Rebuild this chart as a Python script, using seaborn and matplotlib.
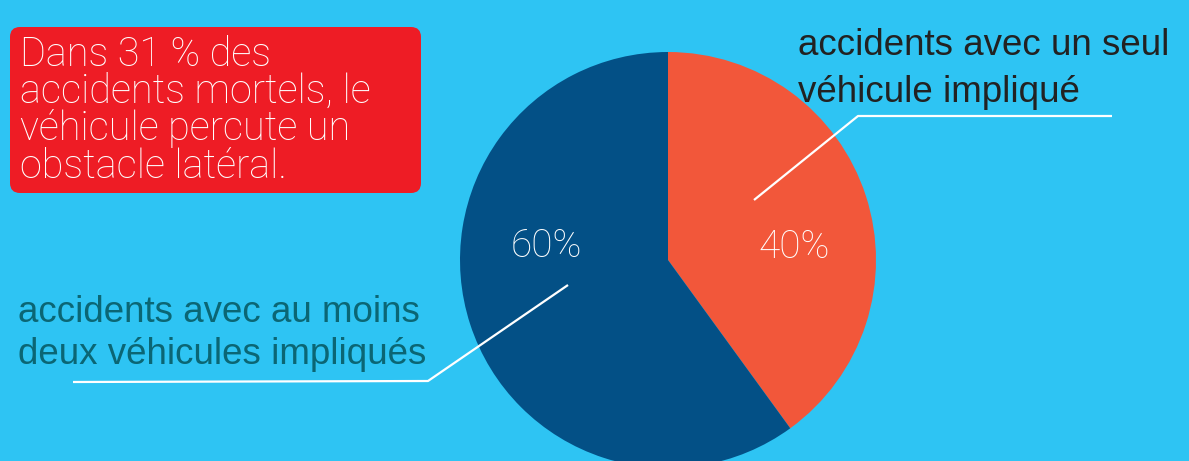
import matplotlib
matplotlib.use("Agg")
import matplotlib.pyplot as plt
from matplotlib.patches import FancyBboxPatch
import seaborn as sns

# ---- data ----
categories = ["accidents avec un seul\nvéhicule impliqué",
              "accidents avec au moins\ndeux véhicules impliqués"]
shares = [40, 60]
pct_labels = ["40%", "60%"]
callout = "Dans 31 % des\naccidents mortels, le\nvéhicule percute un\nobstacle latéral."

# ---- style ----
BG = "#2EC4F3"
ORANGE = "#F2573A"
NAVY = "#035086"
RED = "#EE1C25"
palette = sns.color_palette([ORANGE, NAVY])

sns.set_theme(style="white")
plt.rcParams["font.family"] = ["Liberation Sans", "DejaVu Sans"]

W, H = 1189, 461
fig = plt.figure(figsize=(W / 100, H / 100), dpi=100, facecolor=BG)
ax = fig.add_axes([0, 0, 1, 1])
ax.set_facecolor(BG)


def Y(py):
    return H - py


def lines(x, baselines, text, **kw):
    for b, line in zip(baselines, text.split("\n")):
        ax.text(x, Y(b), line, ha="left", va="baseline", **kw)


# pie
ax.pie(shares, colors=palette, startangle=90, counterclock=False,
       center=(668, Y(260)), radius=208,
       wedgeprops=dict(linewidth=0, edgecolor="none"))

# percentage labels
LIGHT = ["Roboto", "DejaVu Sans"]
ax.text(794, Y(258), pct_labels[0], color="white", fontsize=28,
        fontweight="light", family=LIGHT, ha="center", va="baseline")
ax.text(546, Y(257), pct_labels[1], color="white", fontsize=28,
        fontweight="light", family=LIGHT, ha="center", va="baseline")

# category labels
lines(798, [55, 102], categories[0], color="#222222", fontsize=26.5)
lines(18, [322, 364], categories[1], color="#0B6674", fontsize=26.5)

# leader lines
ax.plot([754, 858, 1112], [Y(200), Y(116), Y(116)], color="white", lw=1.6,
        solid_capstyle="butt")
ax.plot([568, 428, 73], [Y(285), Y(381), Y(382)], color="white", lw=1.6,
        solid_capstyle="butt")

# callout box
box = FancyBboxPatch((10, Y(193)), 411, 166,
                     boxstyle="round,pad=0,rounding_size=10",
                     facecolor=RED, edgecolor="none")
ax.add_patch(box)
lines(20, [66, 103, 140, 178], callout, color="white", fontsize=28.5,
      family=LIGHT, fontweight="light")

ax.set_xlim(0, W)
ax.set_ylim(0, H)
ax.set_aspect("auto")
ax.axis("off")

fig.savefig("out.png", dpi=100, facecolor=BG)
